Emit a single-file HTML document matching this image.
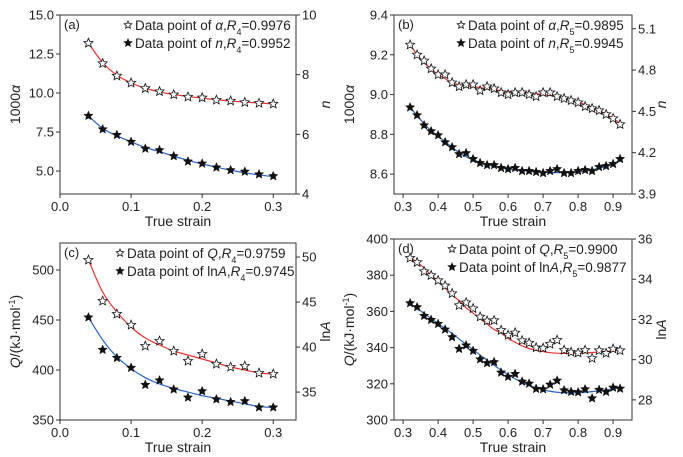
<!DOCTYPE html>
<html><head><meta charset="utf-8"><style>
html,body{margin:0;padding:0;background:#fff;}
svg{display:block;font-family:"Liberation Sans",sans-serif;}
</style></head><body>
<svg id="fig" width="683" height="457" viewBox="0 0 683 457"></svg>
<script>
// ---- data ----
const xA = [0.04,0.06,0.08,0.10,0.12,0.14,0.16,0.18,0.20,0.22,0.24,0.26,0.28,0.30];
const aAlpha = [13.2,11.9,11.1,10.65,10.3,10.1,9.9,9.75,9.7,9.55,9.5,9.4,9.35,9.3];
const aAlphaFit = [13.2,11.95,11.15,10.65,10.3,10.07,9.9,9.78,9.67,9.57,9.49,9.42,9.36,9.3];
const aN = [6.62,6.17,5.98,5.75,5.52,5.47,5.27,5.09,5.02,4.89,4.80,4.75,4.66,4.60];
const aNFit = [6.62,6.2,5.95,5.75,5.56,5.42,5.27,5.13,5.01,4.9,4.8,4.71,4.64,4.58];
const xB = [0.32,0.34,0.36,0.38,0.40,0.42,0.44,0.46,0.48,0.50,0.52,0.54,0.56,0.58,0.60,0.62,0.64,0.66,0.68,0.70,0.72,0.74,0.76,0.78,0.80,0.82,0.84,0.86,0.88,0.90,0.92];
const bAlpha = [9.25,9.2,9.17,9.13,9.1,9.1,9.06,9.04,9.05,9.05,9.02,9.04,9.03,9.01,9.0,9.01,9.01,9.0,8.99,9.01,9.01,8.99,8.98,8.97,8.96,8.94,8.93,8.92,8.9,8.88,8.85];
const bAlphaFit = [9.25,9.2,9.16,9.13,9.1,9.08,9.06,9.05,9.045,9.04,9.035,9.03,9.025,9.02,9.015,9.012,9.01,9.008,9.005,9.0,8.995,8.99,8.98,8.97,8.96,8.95,8.935,8.92,8.9,8.88,8.855];
const bN = [4.529,4.472,4.399,4.356,4.327,4.276,4.24,4.19,4.197,4.154,4.125,4.11,4.11,4.089,4.081,4.089,4.067,4.067,4.06,4.052,4.067,4.081,4.052,4.052,4.067,4.074,4.067,4.096,4.103,4.118,4.154];
const bNFit = [4.53,4.47,4.41,4.36,4.32,4.28,4.24,4.2,4.17,4.15,4.13,4.115,4.1,4.09,4.08,4.075,4.07,4.065,4.06,4.058,4.056,4.055,4.055,4.056,4.06,4.066,4.075,4.087,4.1,4.118,4.15];
const cQ = [510,469,456,445,424,429,419,409,416,406,403,404,397,396];
const cQFit = [510,478,458,443,432,425,419,415,411,407,403,400,397,396];
const cLnA = [43.3,39.7,38.8,37.7,35.8,36.3,35.3,34.4,35.1,34.2,33.9,34.0,33.3,33.3];
const cLnAFit = [43.3,40.8,38.9,37.6,36.6,35.9,35.4,35.0,34.6,34.3,34.0,33.7,33.4,33.3];
const dQ = [389.5,387.1,382.1,379.9,377.1,374.2,369.9,363.3,364.9,361.6,357,354.8,355,349.6,346.9,348.2,343.9,342.6,340,339.7,341.9,344.1,338.6,337.5,337.1,338.6,334.1,338.4,336.9,339.3,338.4];
const dQFit = [390,387,384,380,377,373,369,366,362,359,356,353,350,348,345,343,341,339.5,338.5,337.8,337.2,336.9,336.8,336.8,336.9,337.1,337.3,337.6,337.9,338.2,338.5];
const dLnA = [32.81,32.61,32.18,31.98,31.78,31.5,31.12,30.54,30.71,30.44,30.02,29.83,29.88,29.36,29.15,29.29,28.91,28.81,28.55,28.53,28.76,28.96,28.48,28.4,28.38,28.53,28.08,28.5,28.4,28.61,28.56];
const dLnAFit = [32.8,32.55,32.3,32.05,31.8,31.55,31.3,31.03,30.76,30.5,30.23,29.97,29.72,29.48,29.25,29.05,28.87,28.72,28.6,28.5,28.43,28.38,28.36,28.35,28.36,28.38,28.41,28.45,28.5,28.55,28.6];
const xTicksA = [0.0,0.1,0.2,0.3];
const xTicksB = [0.3,0.4,0.5,0.6,0.7,0.8,0.9];

const NS="http://www.w3.org/2000/svg";
const svg=document.getElementById('fig');
function el(tag,attrs,parent){const e=document.createElementNS(NS,tag);for(const k in attrs)e.setAttribute(k,attrs[k]);(parent||svg).appendChild(e);return e;}
function lin(d0,d1,r0,r1){return v=>r0+(v-d0)*(r1-r0)/(d1-d0);}
function starPath(cx,cy,R){const r=R*0.45;let p='';for(let i=0;i<10;i++){const a=-Math.PI/2+i*Math.PI/5;const rr=i%2?r:R;p+=(i?'L':'M')+(cx+rr*Math.cos(a)).toFixed(2)+','+(cy+rr*Math.sin(a)).toFixed(2);}return p+'Z';}
function smooth(pts){let d='M'+pts[0][0]+','+pts[0][1];for(let i=0;i<pts.length-1;i++){const p0=pts[i-1]||pts[i],p1=pts[i],p2=pts[i+1],p3=pts[i+2]||p2;const c1=[p1[0]+(p2[0]-p0[0])/6,p1[1]+(p2[1]-p0[1])/6],c2=[p2[0]-(p3[0]-p1[0])/6,p2[1]-(p3[1]-p1[1])/6];d+=`C${c1[0].toFixed(2)},${c1[1].toFixed(2)} ${c2[0].toFixed(2)},${c2[1].toFixed(2)} ${p2[0].toFixed(2)},${p2[1].toFixed(2)}`;}return d;}

function panel(o){
  const g=el('g',{});
  
  
  const X=lin(o.xd[0],o.xd[1],o.L,o.R), Y1=lin(o.y1[0],o.y1[1],o.B,o.T), Y2=lin(o.y2[0],o.y2[1],o.B,o.T);
  const ax='#333';
  const box=el('rect',{x:o.L,y:o.T,width:o.R-o.L,height:o.B-o.T,fill:'none',stroke:ax,'stroke-width':1},g);
  
  o.xt.forEach(t=>{const x=X(t);el('line',{x1:x,x2:x,y1:o.B,y2:o.B+4,stroke:ax},g);
    const tx=el('text',{x:x,y:o.B+17,'font-size':13,'text-anchor':'middle',fill:'#222'},g);tx.textContent=t.toFixed(1);
    });
  o.y1t.forEach(t=>{const y=Y1(t);el('line',{x1:o.L-4,x2:o.L,y1:y,y2:y,stroke:ax},g);
    const tx=el('text',{x:o.L-6,y:y+4.5,'font-size':13,'text-anchor':'end',fill:'#222'},g);tx.textContent=t.toFixed(o.y1f);
    });
  o.y2t.forEach(t=>{const y=Y2(t);el('line',{x1:o.R,x2:o.R+4,y1:y,y2:y,stroke:ax},g);
    const tx=el('text',{x:o.R+6,y:y+4.5,'font-size':13,'text-anchor':'start',fill:'#222'},g);tx.textContent=t.toFixed(o.y2f);
    });
  const xt=el('text',{x:(o.L+o.R)/2,y:o.B+32,'font-size':14,'text-anchor':'middle',fill:'#222'},g);xt.textContent='True strain';
  
  const yl=el('text',{transform:`translate(${o.L-40},${(o.T+o.B)/2}) rotate(-90)`,'font-size':14,'text-anchor':'middle',fill:'#222'},g);yl.innerHTML=o.ylab;
  
  const yr=el('text',{transform:`translate(${o.R+34},${(o.T+o.B)/2}) rotate(-90)`,'font-size':14,'text-anchor':'middle',fill:'#222'},g);yr.innerHTML=o.yrab;
  
  const pl=el('text',{x:o.L+4,y:o.T+14,'font-size':13,fill:'#222'},g);pl.textContent=o.tag;
  
  const f1=el('path',{d:smooth(o.x.map((v,i)=>[X(v),Y1(o.s1f[i])])),fill:'none',stroke:'#e8322d','stroke-width':1.2},g);
  
  const f2=el('path',{d:smooth(o.x.map((v,i)=>[X(v),Y2(o.s2f[i])])),fill:'none',stroke:'#2b63c6','stroke-width':1.2},g);
  
  o.x.forEach((v,i)=>{const s=el('path',{d:starPath(X(v),Y1(o.s1[i]),4.8),fill:'#fff',stroke:'#111','stroke-width':0.8},g);
    });
  o.x.forEach((v,i)=>{const s=el('path',{d:starPath(X(v),Y2(o.s2[i]),4.8),fill:'#111',stroke:'#111','stroke-width':0.5},g);
    });
  const lg=el('g',{},g);
  [[o.leg1,'#fff'],[o.leg2,'#111']].forEach((l,i)=>{const yy=o.T+10+i*18;
    const e1=el('path',{d:starPath(o.lx,yy,4),fill:l[1],stroke:'#111','stroke-width':0.8},lg);
    
    const t=el('text',{x:o.lx+7,y:yy+5,'font-size':13.5,fill:'#222'},lg);t.innerHTML=l[0];
    });
}
const sub=n=>`<tspan baseline-shift="sub" font-size="9">${n}</tspan>`;
panel({name:'panel-a',tag:'(a)',L:60,R:296,T:15,B:194,xd:[0,0.332],xt:xTicksA,y1:[3.53,15],y1t:[5,7.5,10,12.5,15],y1f:1,y2:[4,10],y2t:[4,6,8,10],y2f:0,
  x:xA,s1:aAlpha,s1f:aAlphaFit,s2:aN,s2f:aNFit,ylab:'1000<tspan font-style="italic">α</tspan>',yrab:'<tspan font-style="italic">n</tspan>',lx:128,
  leg1:`Data point of <tspan font-style="italic">α</tspan>,<tspan font-style="italic">R</tspan>${sub(4)}<tspan>=0.9976</tspan>`,
  leg2:`Data point of <tspan font-style="italic">n</tspan>,<tspan font-style="italic">R</tspan>${sub(4)}<tspan>=0.9952</tspan>`});
panel({name:'panel-b',tag:'(b)',L:394,R:632,T:15,B:194,xd:[0.274,0.954],xt:xTicksB,y1:[8.5,9.4],y1t:[8.6,8.8,9.0,9.2,9.4],y1f:1,y2:[3.9,5.2],y2t:[3.9,4.2,4.5,4.8,5.1],y2f:1,
  x:xB,s1:bAlpha,s1f:bAlphaFit,s2:bN,s2f:bNFit,ylab:'1000<tspan font-style="italic">α</tspan>',yrab:'<tspan font-style="italic">n</tspan>',lx:461,
  leg1:`Data point of <tspan font-style="italic">α</tspan>,<tspan font-style="italic">R</tspan>${sub(5)}<tspan>=0.9895</tspan>`,
  leg2:`Data point of <tspan font-style="italic">n</tspan>,<tspan font-style="italic">R</tspan>${sub(5)}<tspan>=0.9945</tspan>`});
panel({name:'panel-c',tag:'(c)',L:60,R:296,T:243,B:420,xd:[0,0.332],xt:xTicksA,y1:[350,527],y1t:[350,400,450,500],y1f:0,y2:[31.9,51.56],y2t:[35,40,45,50],y2f:0,
  x:xA,s1:cQ,s1f:cQFit,s2:cLnA,s2f:cLnAFit,ylab:'<tspan font-style="italic">Q</tspan>/(kJ·mol<tspan baseline-shift="super" font-size="9">-1</tspan>)',yrab:'ln<tspan font-style="italic">A</tspan>',lx:120,
  leg1:`Data point of <tspan font-style="italic">Q</tspan>,<tspan font-style="italic">R</tspan>${sub(4)}<tspan>=0.9759</tspan>`,
  leg2:`Data point of ln<tspan font-style="italic">A</tspan>,<tspan font-style="italic">R</tspan>${sub(4)}<tspan>=0.9745</tspan>`});
panel({name:'panel-d',tag:'(d)',L:394,R:632,T:239,B:420,xd:[0.274,0.954],xt:xTicksB,y1:[300,400],y1t:[300,320,340,360,380,400],y1f:0,y2:[27,36],y2t:[28,30,32,34,36],y2f:0,
  x:xB,s1:dQ,s1f:dQFit,s2:dLnA,s2f:dLnAFit,ylab:'<tspan font-style="italic">Q</tspan>/(kJ·mol<tspan baseline-shift="super" font-size="9">-1</tspan>)',yrab:'ln<tspan font-style="italic">A</tspan>',lx:452,
  leg1:`Data point of <tspan font-style="italic">Q</tspan>,<tspan font-style="italic">R</tspan>${sub(5)}<tspan>=0.9900</tspan>`,
  leg2:`Data point of ln<tspan font-style="italic">A</tspan>,<tspan font-style="italic">R</tspan>${sub(5)}<tspan>=0.9877</tspan>`});
</script>
</body></html>
